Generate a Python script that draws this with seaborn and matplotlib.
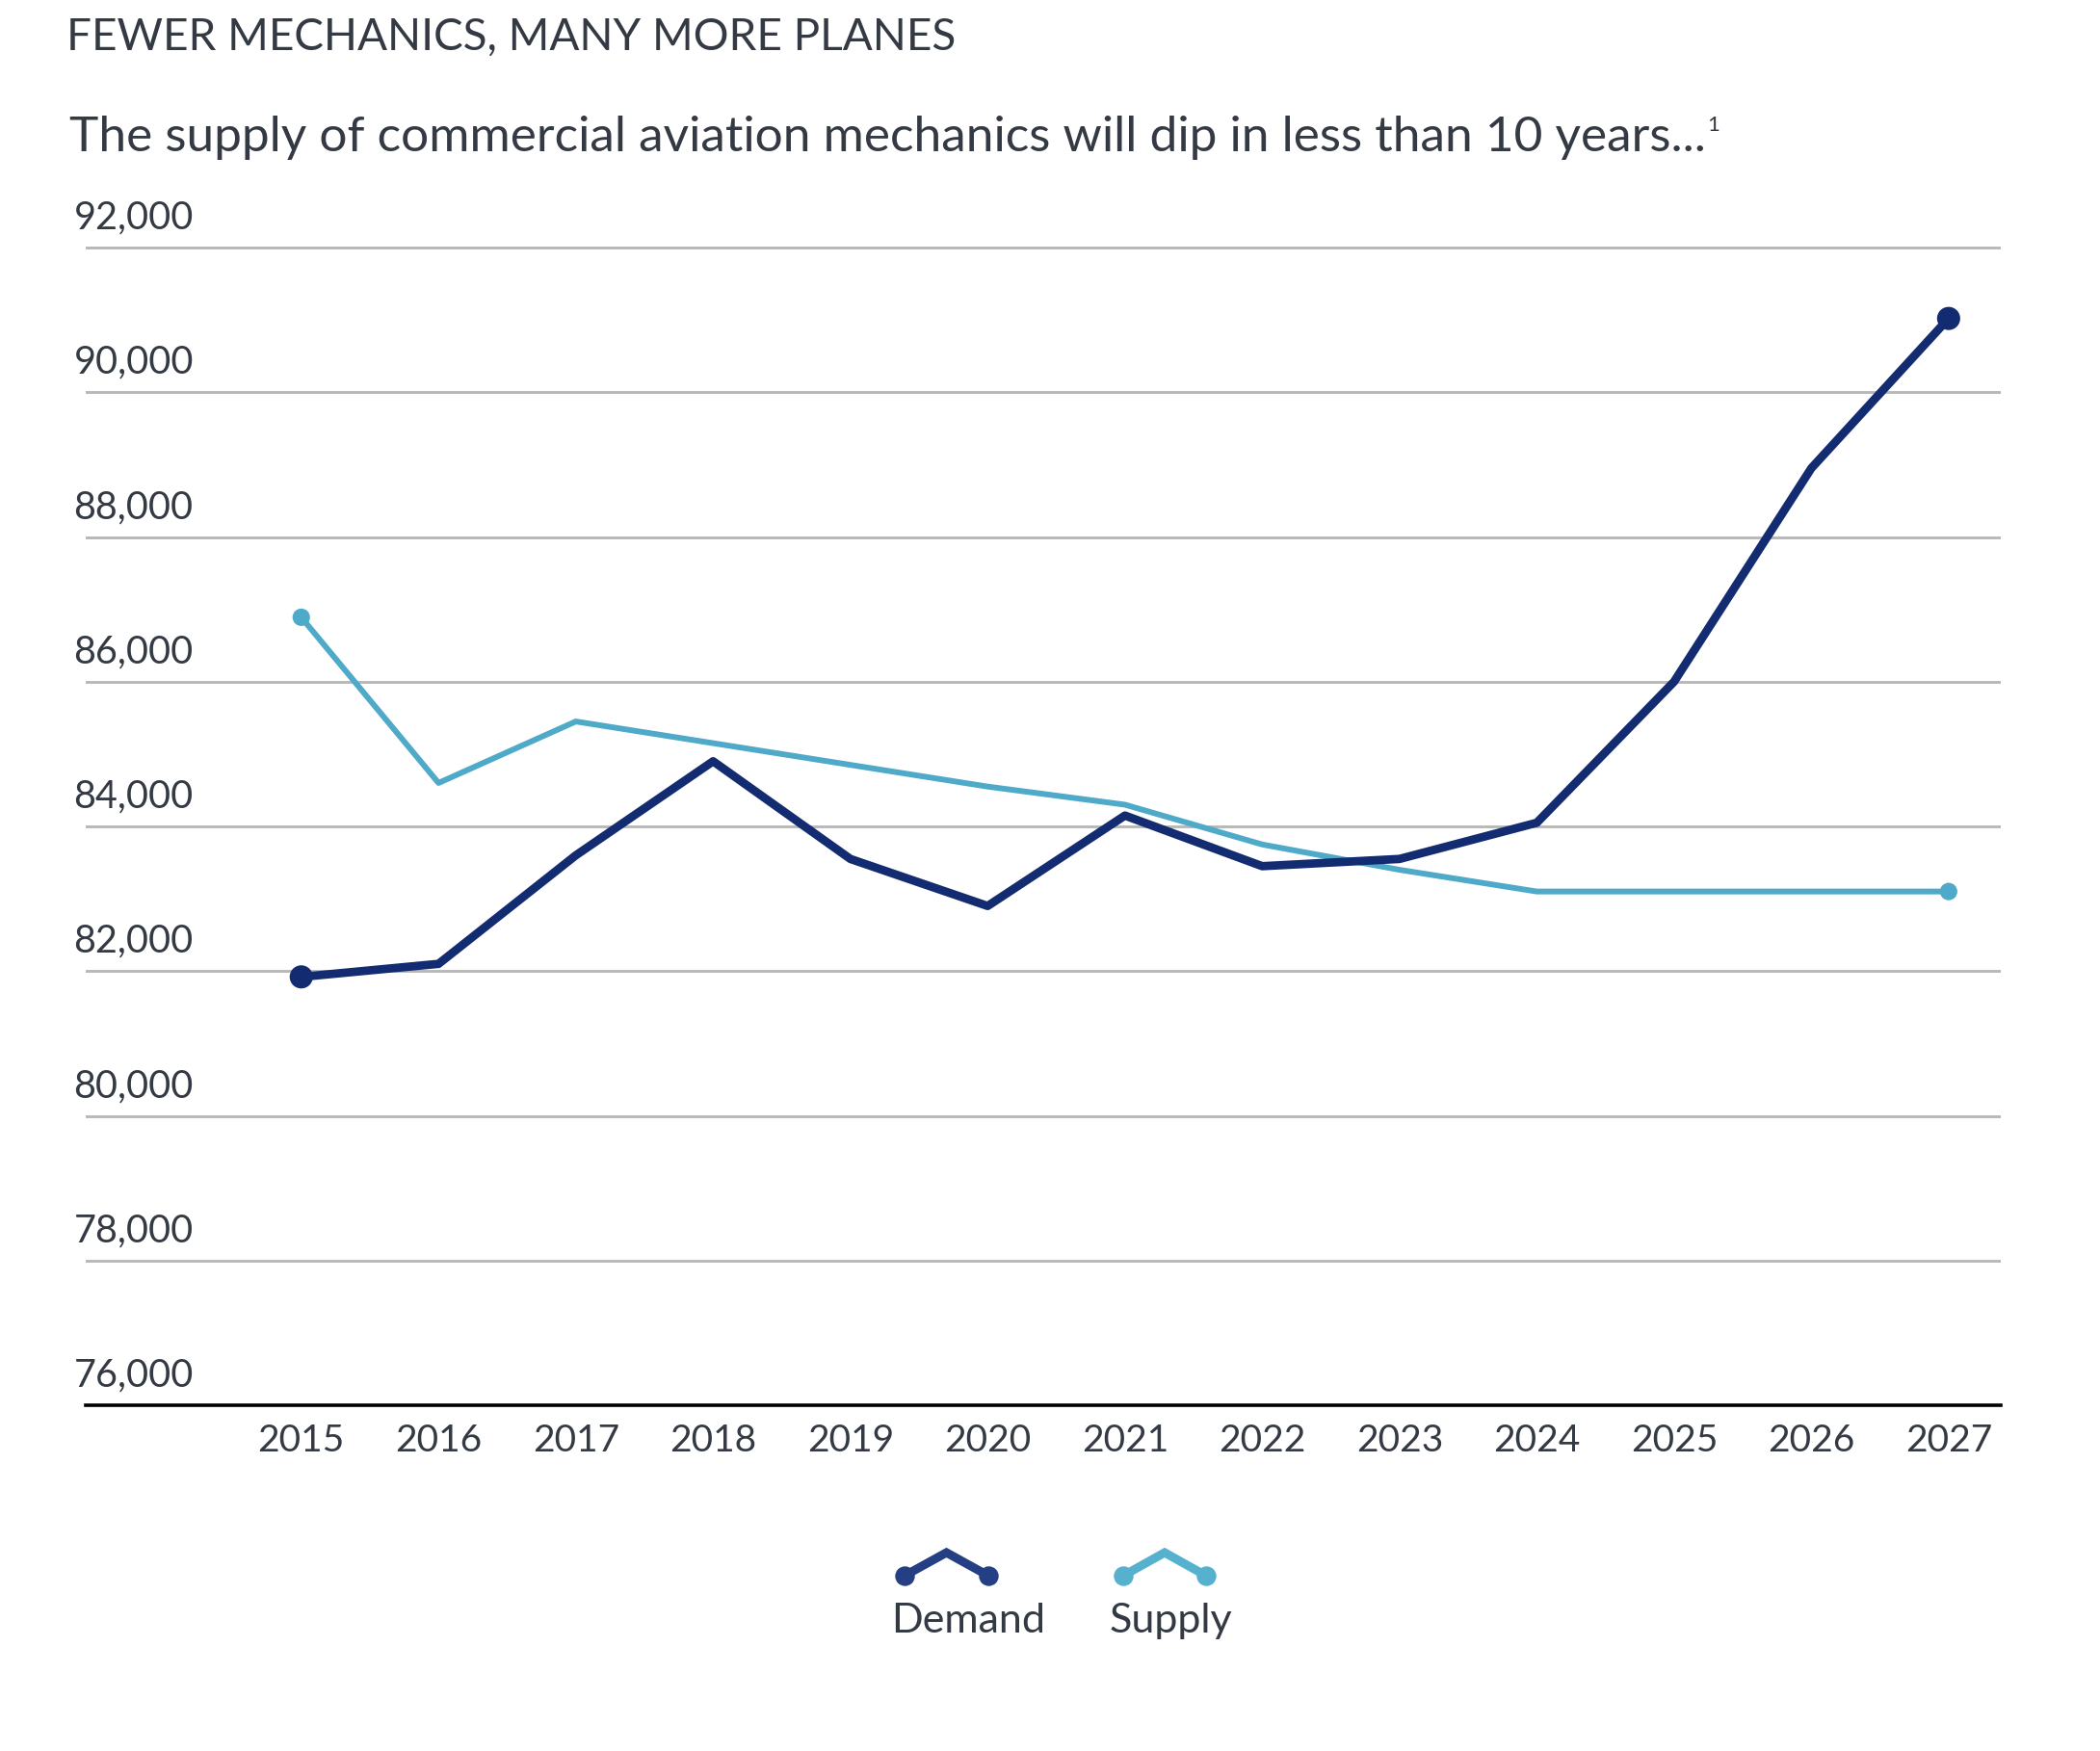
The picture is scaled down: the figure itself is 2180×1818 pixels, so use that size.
import matplotlib
matplotlib.use("Agg")
import matplotlib.pyplot as plt
from matplotlib.lines import Line2D
from matplotlib.transforms import ScaledTranslation
import seaborn as sns
import pandas as pd

years = list(range(2015, 2028))
demand = [81920, 82100, 83600, 84900, 83550, 82900, 84150, 83450, 83550, 84050, 86000, 88950, 91020]
supply = [86890, 84600, 85450, 85150, 84850, 84550, 84300, 83750, 83400, 83100, 83100, 83100, 83100]
y_ticks = [76000, 78000, 80000, 82000, 84000, 86000, 88000, 90000, 92000]
series_names = ["Demand", "Supply"]
title = "FEWER MECHANICS, MANY MORE PLANES"
subtitle = "The supply of commercial aviation mechanics will dip in less than 10 years..."
footnote = "1"

DEMAND_C = "#132b70"
SUPPLY_C = "#4eaac8"
LEG_DEMAND_C = "#253f85"
LEG_SUPPLY_C = "#56b1cf"
TEXT_C = "#343a43"
GRID_C = "#b8b8b8"

sns.set_style("white")
plt.rcParams["font.family"] = ["Lato", "DejaVu Sans"]

df = pd.DataFrame({
    "year": years * 2,
    "value": demand + supply,
    "series": [series_names[0]] * len(years) + [series_names[1]] * len(years),
})

W, H = 2180, 1818
fig = plt.figure(figsize=(W / 100, H / 100), dpi=100)
ax_bottom = 1459
ax_top = 249.5
ax = fig.add_axes([89 / W, (H - ax_bottom) / H, (2077 - 89) / W, (ax_bottom - ax_top) / H])

d = df[df.series == "Demand"]
s = df[df.series == "Supply"]
sns.lineplot(data=s, x="year", y="value", color=SUPPLY_C, linewidth=4.3, ax=ax, legend=False, zorder=3)
sns.lineplot(data=d, x="year", y="value", color=DEMAND_C, linewidth=6.3, ax=ax, legend=False, zorder=4)
s_end = s.iloc[[0, -1]]
d_end = d.iloc[[0, -1]]
sns.scatterplot(data=s_end, x="year", y="value", color=SUPPLY_C, s=170, edgecolor="none", ax=ax, zorder=5, legend=False)
sns.scatterplot(data=d_end, x="year", y="value", color=DEMAND_C, s=300, edgecolor="none", ax=ax, zorder=6, legend=False)

ax.set_xlim(2013.43, 2027.38)
ax.set_ylim(76000, 92100)
ax.set_xticks(years)
ax.set_xticklabels([str(y) for y in years])
ax.set_yticks(y_ticks)
ax.set_yticklabels([f"{v:,}" for v in y_ticks])
ax.set_xlabel("")
ax.set_ylabel("")

for side in ["top", "right", "left"]:
    ax.spines[side].set_visible(False)
ax.spines["bottom"].set_color("#000000")
ax.spines["bottom"].set_linewidth(2.6)
ax.spines["bottom"].set_zorder(2)

ax.yaxis.grid(True, color=GRID_C, linewidth=2.1, zorder=1)
ax.xaxis.grid(False)
ax.set_axisbelow(True)

ax.tick_params(axis="x", length=0, pad=14, labelsize=28, labelcolor=TEXT_C)
ax.tick_params(axis="y", length=0, pad=0, labelsize=28.5, labelcolor=TEXT_C)
offset = ScaledTranslation(-0.125, 0.31, fig.dpi_scale_trans)
for lab in ax.get_yticklabels():
    lab.set_horizontalalignment("left")
    lab.set_verticalalignment("center")
    lab.set_transform(lab.get_transform() + offset)

# Titles
fig.text(69 / W, 1 - 52 / H, title, fontsize=33, color=TEXT_C, ha="left", va="baseline")
sub = fig.text(72 / W, 1 - 157 / H, subtitle, fontsize=37, color=TEXT_C, ha="left", va="baseline")
ax.annotate(footnote, xy=(1.0, 1.0), xycoords=sub, xytext=(1, 0), textcoords="offset points",
            fontsize=16, color=TEXT_C, ha="left", va="top")

# Legend (custom caret icons)
def legend_icon(x0, x1, color, label, label_x):
    xm = (x0 + x1) / 2
    xs = [x0, xm, x1]
    ys = [1636, 1612, 1636]
    fx = [v / W for v in xs]
    fy = [1 - v / H for v in ys]
    fig.add_artist(Line2D(fx, fy, color=color, linewidth=6.5, solid_joinstyle="miter",
                          transform=fig.transFigure))
    fig.add_artist(Line2D([fx[0], fx[2]], [fy[0], fy[2]], linestyle="none", marker="o",
                          markersize=13.7, color=color, transform=fig.transFigure))
    fig.text(label_x / W, 1 - 1695 / H, label, fontsize=31, color=TEXT_C, ha="center", va="baseline")

legend_icon(939, 1026, LEG_DEMAND_C, series_names[0], 1005)
legend_icon(1166, 1252, LEG_SUPPLY_C, series_names[1], 1215)

fig.savefig("out.png", dpi=100, facecolor="white")
